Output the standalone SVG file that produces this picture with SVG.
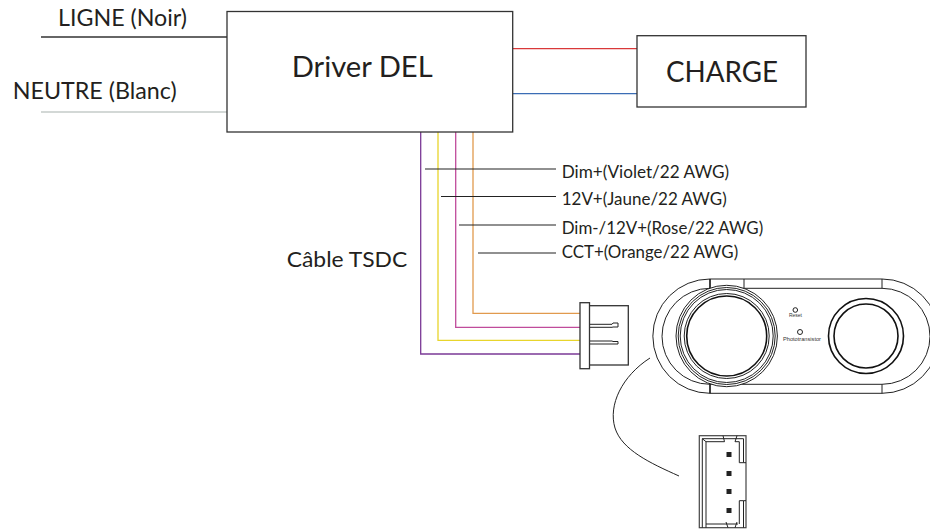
<svg xmlns="http://www.w3.org/2000/svg" width="930" height="529" viewBox="0 0 930 529">
<style>
text{font-family:Lato,"Liberation Sans",sans-serif;fill:#231f20}
.box{fill:#fff;stroke:#333;stroke-width:1.3}
.ln{fill:none;stroke:#222;stroke-width:1}
.th{fill:none;stroke:#111;stroke-width:1.6}
.w{fill:none;stroke-width:1.3}
.lead{fill:none;stroke:#222;stroke-width:1.1}
.lg{font-size:23px}
.sm{font-size:16.500px}
.tiny{font-family:"Liberation Sans",sans-serif;font-size:5.500px;fill:#333}
</style>
<rect width="930" height="529" fill="#fff"/>
<g id="connectors">
<path class="w" stroke="#333" d="M41 37H227"/>
<path class="w" stroke="#c4cbc8" d="M41 112H227"/>
<path class="w" stroke="#d9383a" d="M513 48.700H638"/>
<path class="w" stroke="#3b6db5" d="M513 93.700H638"/>
<path class="w" stroke="#e19a4e" d="M473 132V313.300H580"/>
<path class="w" stroke="#c04c9b" d="M455.700 132V327.300H580"/>
<path class="w" stroke="#e8d52c" d="M438 132V340.300H580"/>
<path class="w" stroke="#7b3a96" d="M420.700 132V354H580"/>
<path class="lead" d="M425 169H556M441 196.500H556M459 225H556M478 253H556"/>
<path class="ln" d="M650 358C622 376 608 405 615 428C622 450 650 463 679 476"/>
</g>
<g id="driver"><rect class="box" x="227" y="11.500" width="285.700" height="120.500"/><text x="291.700" y="76.700" font-size="28" textLength="141" lengthAdjust="spacingAndGlyphs">Driver DEL</text></g>
<g id="charge"><rect class="box" x="637" y="35.700" width="169" height="71.300"/><text x="666" y="82" font-size="28" textLength="112" lengthAdjust="spacingAndGlyphs">CHARGE</text></g>
<g id="label-ligne"><text class="lg" x="58" y="26" textLength="129" lengthAdjust="spacingAndGlyphs">LIGNE (Noir)</text></g>
<g id="label-neutre"><text class="lg" x="12.700" y="99.300" textLength="164" lengthAdjust="spacingAndGlyphs">NEUTRE (Blanc)</text></g>
<g id="label-cable"><text class="lg" x="286.700" y="266.700" font-size="22" style="font-size:22px" textLength="120.600" lengthAdjust="spacingAndGlyphs">Câble TSDC</text></g>
<g id="label-dim-plus"><text class="sm" x="561.700" y="177.700" textLength="167.500" lengthAdjust="spacingAndGlyphs">Dim+(Violet/22 AWG)</text></g>
<g id="label-12v"><text class="sm" x="561.700" y="205" textLength="165" lengthAdjust="spacingAndGlyphs">12V+(Jaune/22 AWG)</text></g>
<g id="label-dim-minus"><text class="sm" x="561.700" y="233.700" textLength="201.500" lengthAdjust="spacingAndGlyphs">Dim-/12V+(Rose/22 AWG)</text></g>
<g id="label-cct"><text class="sm" x="561.700" y="258.300" textLength="176.500" lengthAdjust="spacingAndGlyphs">CCT+(Orange/22 AWG)</text></g>
<g id="plug">
<rect class="box" x="589" y="305.700" width="39.300" height="59.300"/>
<rect x="580" y="302.700" width="9.500" height="66" fill="#fff" stroke="#333" stroke-width="1.300"/>
<path class="ln" d="M590 324.300H612L613 323H618V327H613L612 327.300H590M590 341H612L613 341.500H618V344H613L612 344H590"/>
</g>
<g id="device">
<path class="ln" d="M710 279A57 57 0 0 0 710 393.300H882A57 57 0 0 0 882 279Z"/>
<path class="ln" d="M710 288.300A48 48 0 0 0 710 384.300H882A48 48 0 0 0 882 288.300Z"/>
<path class="th" d="M710 279V288.300M710 384.300V393.300"/>
<path class="ln" d="M744 279V288.300M882 279V288.300M882 384.300V393.300"/>
<circle cx="726.700" cy="336" r="50.700" fill="#fff" stroke="#222" stroke-width="1"/>
<circle class="ln" cx="726.700" cy="336" r="48.500"/>
<circle class="ln" cx="726.700" cy="336" r="46.500"/>
<circle class="ln" cx="726.700" cy="336" r="42.500"/>
<circle class="th" cx="726.700" cy="336" r="40"/>
<circle class="th" cx="866" cy="336" r="37.500"/>
<circle class="th" cx="866" cy="336" r="32"/>
<circle class="ln" cx="795.300" cy="310" r="2.300"/>
<circle class="ln" cx="800" cy="332" r="2.500"/>
<text class="tiny" x="789" y="317" textLength="13" lengthAdjust="spacingAndGlyphs">Reset</text>
<text class="tiny" x="783" y="341" textLength="38" lengthAdjust="spacingAndGlyphs">Phototransistor</text>
</g>
<g id="socket">
<rect x="699.300" y="435.700" width="46.700" height="92" fill="#fff" stroke="#444" stroke-width="1.200"/>
<path class="ln" d="M702.300 527.700V438.700H743.500V462.700H746M743.500 500.700H746M702.300 438.700L706 441.700M706 527.700V441.700H724.500L723 435.700M706 524H738M739.300 462.700V441.700H735L737 435.700M739.300 500.700V524M743.500 500.700V527.700M739.300 500.700H743.500M739.300 462.700H743.500M728 527.700L726 522M735 527.700L737 522"/>
<g fill="#222">
<rect x="726.500" y="452" width="5" height="5"/><rect x="726.500" y="471" width="5" height="5"/><rect x="726.500" y="489" width="5" height="5"/><rect x="726.500" y="508" width="5" height="5"/>
</g>
</g>
</svg>
